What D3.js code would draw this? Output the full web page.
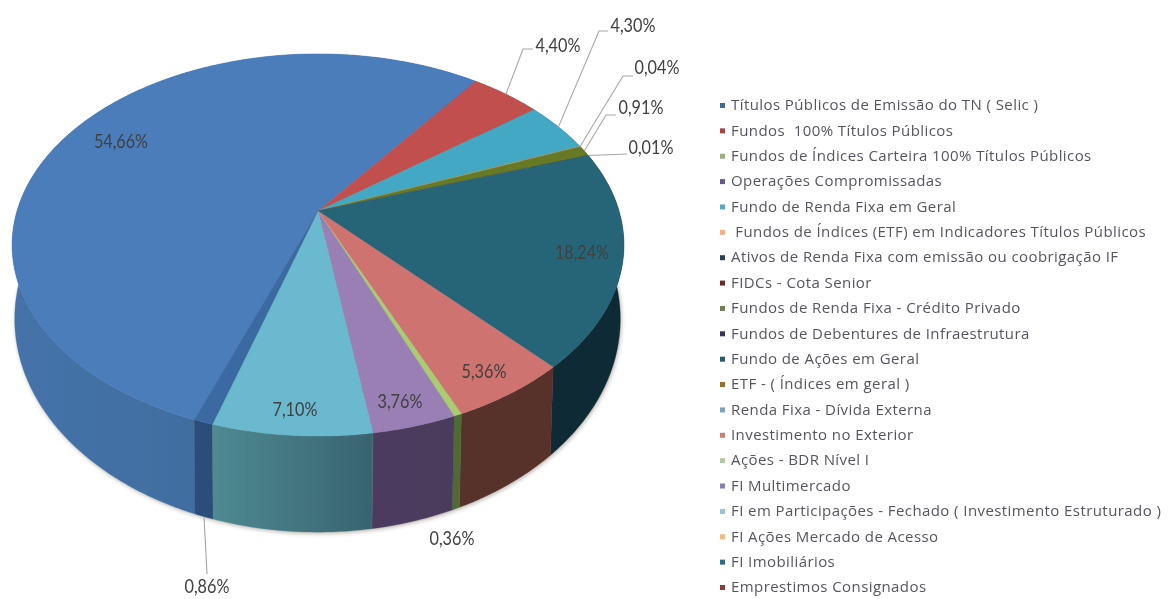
<!DOCTYPE html>
<html><head><meta charset="utf-8">
<script src="https://cdn.jsdelivr.net/npm/d3@7/dist/d3.min.js"></script>
<style>html,body{margin:0;padding:0;background:#fff;overflow:hidden}svg{display:block}</style>
</head><body><svg id="c" width="1168" height="599"></svg>
<script>
const categories = ["Títulos Públicos de Emissão do TN ( Selic )","Fundos  100% Títulos Públicos","Fundos de Índices Carteira 100% Títulos Públicos","Operações Compromissadas","Fundo de Renda Fixa em Geral"," Fundos de Índices (ETF) em Indicadores Títulos Públicos","Ativos de Renda Fixa com emissão ou coobrigação IF","FIDCs - Cota Senior","Fundos de Renda Fixa - Crédito Privado","Fundos de Debentures de Infraestrutura","Fundo de Ações em Geral","ETF - ( Índices em geral )","Renda Fixa - Dívida Externa","Investimento no Exterior","Ações - BDR Nível I","FI Multimercado","FI em Participações - Fechado ( Investimento Estruturado )","FI Ações Mercado de Acesso","FI Imobiliários","Emprestimos Consignados"];
const values = [54.66,4.40,0,0,4.30,0.04,0,0,0.91,0.01,18.24,0,0,5.36,0.36,3.76,7.10,0,0.86,0];
const topColors = ["#4c7dba","#c0504d","#9bbb59","#8064a2","#42a8c3","#f79646","#2c4d75","#772c2a","#667a25","#4d3b62","#276577","#b65708","#729aca","#cf7370","#a9cc70","#9a7fb5","#6bb9cf","#f9ab6b","#3a6aa2","#a33e3b"];
const sideFrom = ["#4473a9","#8a3835","#6f8a3a","#5a4674","#2f7a8e","#b06a30","#1f3753","#55201e","#4a5d1d","#372a46","#0e2c34","#82400a","#527092","#57302c","#4f6a33","#4d3b5f","#4f8a92","#b07a4c","#2a4d7a","#752c2a"];
const sideTo   = ["#3c6594","#8a3835","#6f8a3a","#5a4674","#2f7a8e","#b06a30","#1f3753","#55201e","#4a5d1d","#372a46","#0e2c34","#82400a","#527092","#57302c","#4f6a33","#4a3a5c","#386370","#b07a4c","#2a4d7a","#752c2a"];
const legendMarkers = ["#3f6797","#a8443f","#9dae78","#6b5a8a","#58a9c0","#f2b184","#2c3f55","#6b2c2a","#6d8050","#3a3258","#2b5a68","#96702a","#7da0bd","#c98070","#b5c9a0","#8a7fb0","#98c4cc","#f4b880","#2e6a85","#8a3a3a"];
const labelTexts = {0:"54,66%",1:"4,40%",4:"4,30%",5:"0,04%",8:"0,91%",9:"0,01%",10:"18,24%",13:"5,36%",14:"0,36%",15:"3,76%",16:"7,10%",18:"0,86%"};
const labelAnchors = {0:[121,141],1:[558,45],4:[633,25],5:[657,67],8:[641,107],9:[651,147],10:[582,252],13:[484,371],14:[452,538],15:[400,401],16:[295,409],18:[207,586]};
const leaderElbows = {1:[[523,49],[533,49]],4:[[599,31],[608,31]],5:[[623,76],[633,76]],8:[[606,115],[616,115]],9:[[627,154]],18:[[207,574]]};
const firstSliceDeg = 200;

const K = 0.178;
const topDisc = {cx:318, cy:211, a:301, b:185, sx:1, sy:1};
const botDisc = {cx:317.5, cy:281, a:301, b:185, sx:0.99, sy:1.116};
function project(d, th){
  const u=Math.sin(th), v=-Math.cos(th), w=1-K*v;
  return [d.cx+d.sx*d.a*u/w, d.cy+d.sy*d.b*v/w];
}
const svg = d3.select("#c");
const defs = svg.append("defs");
defs.append("filter").attr("id","soft").append("feGaussianBlur").attr("stdDeviation",0.5);
defs.append("filter").attr("id","shadow").attr("x","-10%").attr("y","-10%").attr("width","120%").attr("height","120%").append("feGaussianBlur").attr("stdDeviation",2);
defs.append("filter").attr("id","edge").append("feGaussianBlur").attr("stdDeviation",0.35);

const pie = d3.pie().sort(null).value(d=>d)
  .startAngle(firstSliceDeg*Math.PI/180).endAngle((firstSliceDeg+360)*Math.PI/180);
const arcs = pie(values).map((a,i)=>({...a,i})).filter(a=>a.value>0);
function samples(a){
  const n=Math.max(2,Math.ceil((a.endAngle-a.startAngle)/0.01));
  return d3.range(n+1).map(k=>a.startAngle+(a.endAngle-a.startAngle)*k/n);
}
const line = d3.line().curve(d3.curveLinear);

const full = d3.range(0,Math.PI*2,0.02);
svg.append("path").attr("d",line(full.map(t=>{const p=project(botDisc,t);return [p[0]+1,p[1]+1.5];}))+"Z")
  .attr("fill","#8a8378").attr("opacity",0.6).attr("filter","url(#shadow)");

const pieG = svg.append("g").attr("filter","url(#edge)");
arcs.forEach(a=>{
  const g=defs.append("linearGradient").attr("id","side"+a.i);
  g.attr("gradientUnits","objectBoundingBox");
  g.append("stop").attr("offset",0).attr("stop-color",sideFrom[a.i]);
  g.append("stop").attr("offset",1).attr("stop-color",sideTo[a.i]);
});
arcs.slice().sort((p,q)=>Math.cos(q.startAngle/2+q.endAngle/2)-Math.cos(p.startAngle/2+p.endAngle/2)).forEach(a=>{
  const t=samples(a);
  const poly=t.map(x=>project(topDisc,x)).concat(t.slice().reverse().map(x=>project(botDisc,x)));
  pieG.append("path").attr("d",line(poly)+"Z").attr("fill",`url(#side${a.i})`).attr("stroke",sideFrom[a.i]).attr("stroke-width",0.3);
});
const apex=[topDisc.cx,topDisc.cy];
arcs.forEach(a=>{
  const poly=[apex].concat(samples(a).map(x=>project(topDisc,x)));
  pieG.append("path").attr("d",line(poly)+"Z").attr("fill",topColors[a.i]).attr("stroke",topColors[a.i]).attr("stroke-width",0.3);
});
const leaderG=svg.append("g").attr("fill","none").attr("stroke","#a6a6a6").attr("stroke-width",1.1);
arcs.filter(a=>leaderElbows[a.i]).forEach(a=>{
  const mid=(a.startAngle+a.endAngle)/2;
  const start=project(a.i===18?botDisc:topDisc,mid);
  leaderG.append("path").attr("d",line([start].concat(leaderElbows[a.i])));
});
const lab=svg.append("g").attr("filter","url(#soft)").attr("font-family","Lato,sans-serif").attr("font-size",19.5).attr("fill","#404040").attr("text-anchor","middle");
arcs.filter(a=>labelTexts[a.i]).forEach(a=>{
  const p=labelAnchors[a.i], s=labelTexts[a.i];
  lab.append("text").attr("x",p[0]).attr("y",p[1]).attr("dy","0.35em")
    .attr("textLength",s.length*9).attr("lengthAdjust","spacingAndGlyphs").text(s);
});
const yLegend=d3.scaleLinear().domain([0,19]).range([105,587]);
const leg=svg.append("g").attr("filter","url(#soft)");
categories.forEach((c,i)=>{
  const y=yLegend(i);
  leg.append("rect").attr("x",720).attr("y",y-2).attr("width",5).attr("height",5).attr("fill",legendMarkers[i]);
  leg.append("text").attr("x",731).attr("y",y).attr("dy","0.35em").style("white-space","pre").style("letter-spacing","0.42px")
    .attr("font-family","'Open Sans',sans-serif").attr("font-size",15).attr("fill","#55555f").text(c);
});
</script></body></html>
